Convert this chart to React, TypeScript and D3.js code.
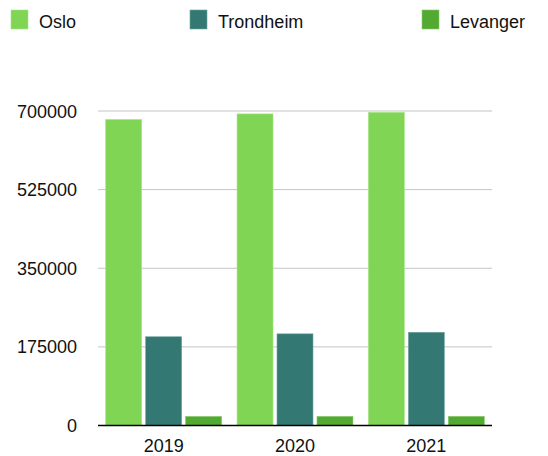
import React from "react";
import * as d3 from "d3";

const years = ["2019", "2020", "2021"];
const seriesNames = ["Oslo", "Trondheim", "Levanger"];
const oslo = [681067, 693494, 697010];
const trondheim = [197500, 204000, 207500];
const levanger = [20155, 20218, 20376];
const yTicks = [0, 175000, 350000, 525000, 700000];

const colors = ["#80d554", "#347873", "#53aa33"];
const strokes = ["#a6e58a", "#6fa39e", "#86c96d"];

export default function App() {
  const W = 548, H = 456;
  const left = 98, right = 492, top = 111, bottom = 425.5;
  const values = [oslo, trondheim, levanger];

  const x = d3.scaleBand<string>().domain(years).range([left, right]).paddingInner(0).paddingOuter(0);
  const y = d3.scaleLinear().domain([0, 700000]).range([bottom, top]);
  const inner = d3.scaleBand<string>().domain(seriesNames).range([7.7, x.bandwidth() - 7.7]).paddingInner(0.1).paddingOuter(0);

  const font = "'Liberation Sans', Arial, Helvetica, sans-serif";
  const legendX = [11, 190, 422];

  return (
    <svg width={W} height={H} style={{ position: "absolute", left: 0, top: 0, background: "#fff" }} fontFamily={font}>
      {seriesNames.map((s, i) => (
        <g key={s}>
          <rect x={legendX[i]} y={10} width={17} height={19} fill={colors[i]} stroke={strokes[i]} strokeWidth={0.6} />
          <text x={legendX[i] + 28} y={27.5} fontSize={18} fill="#111">{s}</text>
        </g>
      ))}
      {yTicks.map((t) => (
        <g key={t}>
          {t !== 0 && <line x1={left} x2={right} y1={y(t)} y2={y(t)} stroke="#c4c4c4" strokeWidth={1} />}
          <text x={77} y={y(t) + 6.5} fontSize={18} textAnchor="end" fill="#111">{t}</text>
        </g>
      ))}
      {years.map((yr, yi) => (
        <g key={yr}>
          {seriesNames.map((s, si) => {
            const v = values[si][yi];
            const bx = (x(yr) as number) + (inner(s) as number);
            return (
              <rect key={s} x={bx} y={y(v)} width={inner.bandwidth()} height={bottom - y(v)}
                fill={colors[si]} stroke={strokes[si]} strokeWidth={0.6} />
            );
          })}
          <text x={(x(yr) as number) + x.bandwidth() / 2} y={452} fontSize={18} textAnchor="middle" fill="#111">{yr}</text>
        </g>
      ))}
      <line x1={left} x2={right} y1={bottom} y2={bottom} stroke="#000" strokeWidth={1.5} />
    </svg>
  );
}
